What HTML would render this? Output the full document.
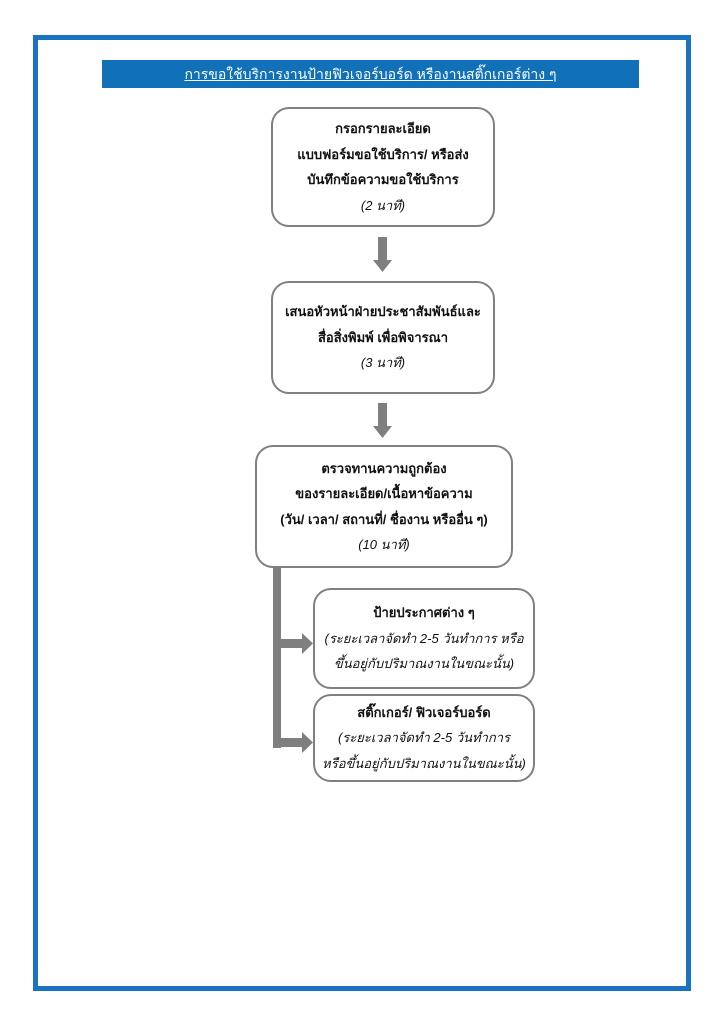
<!DOCTYPE html>
<html><head><meta charset="utf-8"><style>
body{margin:0;width:724px;height:1024px;background:#fff;position:relative;overflow:hidden;font-family:"Liberation Sans","DejaVu Sans",sans-serif;}
.frame{position:absolute;left:33px;top:35px;width:648px;height:946px;border:5px solid #1a72c0;}
.title{position:absolute;left:102px;top:60px;width:537px;height:28px;background:#1070b8;color:#fff;font-size:14px;text-align:center;line-height:28px;text-decoration:underline;}
.box{position:absolute;border:2px solid #808080;border-radius:18px;box-sizing:border-box;text-align:center;font-size:13px;color:#111;display:flex;flex-direction:column;justify-content:center;line-height:25.5px;}
.box b{font-weight:bold}
.box i{font-style:italic}
</style></head><body>
<div class="frame"></div>
<div class="title">การขอใช้บริการงานป้ายฟิวเจอร์บอร์ด หรืองานสติ๊กเกอร์ต่าง ๆ</div>

<div class="box" style="left:271px;top:107px;width:224px;height:120px;"><b>กรอกรายละเอียด</b><b>แบบฟอร์มขอใช้บริการ/ หรือส่ง</b><b>บันทึกข้อความขอใช้บริการ</b><i>(2 นาที)</i></div>
<div class="box" style="left:271px;top:281px;width:224px;height:113px;"><b>เสนอหัวหน้าฝ่ายประชาสัมพันธ์และ</b><b>สื่อสิ่งพิมพ์ เพื่อพิจารณา</b><i>(3 นาที)</i></div>
<div class="box" style="left:255px;top:445px;width:258px;height:123px;"><b>ตรวจทานความถูกต้อง</b><b>ของรายละเอียด/เนื้อหาข้อความ</b><b>(วัน/ เวลา/ สถานที่/ ชื่องาน หรืออื่น ๆ)</b><i>(10 นาที)</i></div>
<div class="box" style="left:313px;top:588px;width:222px;height:101px;"><b>ป้ายประกาศต่าง ๆ</b><i>(ระยะเวลาจัดทำ 2-5 วันทำการ หรือ</i><i>ขึ้นอยู่กับปริมาณงานในขณะนั้น)</i></div>
<div class="box" style="left:313px;top:694px;width:222px;height:88px;"><b>สติ๊กเกอร์/ ฟิวเจอร์บอร์ด</b><i>(ระยะเวลาจัดทำ 2-5 วันทำการ</i><i>หรือขึ้นอยู่กับปริมาณงานในขณะนั้น)</i></div>

<svg width="724" height="1024" style="position:absolute;left:0;top:0">
<g fill="#7f7f7f">
<polygon points="378,237 387,237 387,260 392,260 382.5,272 373,260 378,260"/>
<polygon points="378,403 387,403 387,426 392,426 382.5,438 373,426 378,426"/>
<rect x="273" y="567" width="8" height="181"/>
<polygon points="281,639 302,639 302,633 313,643.5 302,654 302,648 281,648"/>
<polygon points="281,738 302,738 302,732 313,742.5 302,753 302,747 281,747"/>
</g>
</svg>
</body></html>
